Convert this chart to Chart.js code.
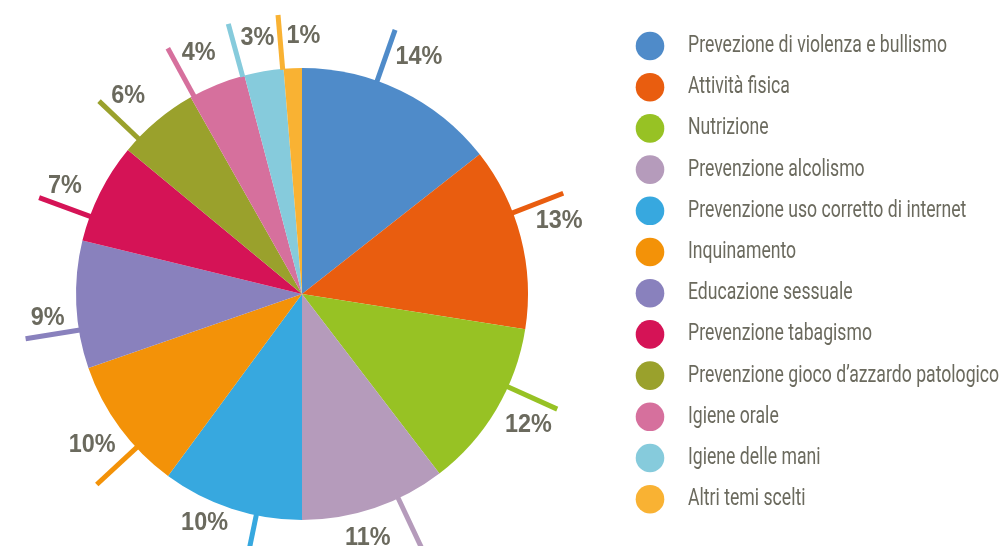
<!DOCTYPE html>
<html>
<head>
<meta charset="utf-8">
<script src="https://cdn.jsdelivr.net/npm/chart.js@4.4.1/dist/chart.umd.min.js"></script>
<style>
  html, body { margin: 0; padding: 0; background: #fff; }
  #wrap { width: 1001px; height: 546px; }
</style>
</head>
<body>
<div id="wrap"><canvas id="pie" width="1001" height="546"></canvas></div>
<script>
// Temi scelti (share of answers, %)
const categories = [
    'Prevezione di violenza e bullismo',
    'Attività fisica',
    'Nutrizione',
    'Prevenzione alcolismo',
    'Prevenzione uso corretto di internet',
    'Inquinamento',
    'Educazione sessuale',
    'Prevenzione tabagismo',
    'Prevenzione gioco d\u2019azzardo patologico',
    'Igiene orale',
    'Igiene delle mani',
    'Altri temi scelti'
];
const shares = [14.4, 13.1, 12.1, 10.4, 10.1, 9.6, 9.1, 7.2, 5.8, 4.1, 2.8, 1.3];
const shareLabels = ['14%', '13%', '12%', '11%', '10%', '10%', '9%', '7%', '6%', '4%', '3%', '1%'];
const sliceColors = [
    '#4f8bc9', '#e95d0f', '#97c224', '#b59bbb', '#37a8df', '#f39208',
    '#8981bd', '#d51356', '#9aa12c', '#d6709d', '#86cbdc', '#f9b233'
];

const TEXT_GREY = '#6b6a5e';
const LABEL_FONT = 'bold 26px "Liberation Sans", Arial, sans-serif';
const LABEL_SQUEEZE = 0.9;       // the original uses a condensed face
const LEGEND_FONT = '23px Roboto, "Liberation Sans", sans-serif';
const LEGEND_FIRST_WIDTH = 259;  // width of the first entry in the original

// outside percentage labels with a short coloured stick, plus the legend list on the right
const calloutPlugin = {
    id: 'callouts',
    afterDatasetsDraw: function (chart) {
        const ctx = chart.ctx;
        const arcs = chart.getDatasetMeta(0).data;
        const deg = Math.PI / 180;
        ctx.save();
        ctx.font = LABEL_FONT;
        arcs.forEach(function (arc, i) {
            const span = arc.endAngle - arc.startAngle;
            const mid = (arc.startAngle + arc.endAngle) / 2;
            const a = mid - Math.min(6.5 * deg, span * 0.55);
            const r = arc.outerRadius;
            const ux = Math.cos(a), uy = Math.sin(a);
            const px = -uy, py = ux;   // clockwise side of the stick

            ctx.strokeStyle = sliceColors[i];
            ctx.lineWidth = 5;
            ctx.lineCap = 'butt';
            ctx.beginPath();
            ctx.moveTo(arc.x + ux * (r - 1), arc.y + uy * (r - 1));
            ctx.lineTo(arc.x + ux * (r + 54), arc.y + uy * (r + 54));
            ctx.stroke();

            // text box sits just clockwise of its stick; lower labels get more room
            const w = ctx.measureText(shareLabels[i]).width * LABEL_SQUEEZE;
            const h = 19;
            const low = Math.max(0, uy);
            const side = (w / 2) * Math.abs(px) + (h / 2) * Math.abs(py) + 6 + 20 * Math.pow(low, 4);
            const along = r + 12 - 9 * uy + (w / 2) * Math.abs(ux) + (h / 2) * Math.abs(uy);
            const lx = arc.x + ux * along + px * side;
            const ly = arc.y + uy * along + py * side;

            ctx.save();
            ctx.translate(lx, ly);
            ctx.scale(LABEL_SQUEEZE, 1);
            ctx.fillStyle = TEXT_GREY;
            ctx.textAlign = 'center';
            ctx.textBaseline = 'middle';
            ctx.fillText(shareLabels[i], 0, 1);
            ctx.restore();
        });

        // legend
        ctx.font = LEGEND_FONT;
        const squeeze = LEGEND_FIRST_WIDTH / ctx.measureText(categories[0]).width;
        ctx.textAlign = 'left';
        ctx.textBaseline = 'alphabetic';
        categories.forEach(function (name, i) {
            const cy = 46 + i * 41.2;
            ctx.fillStyle = sliceColors[i];
            ctx.beginPath();
            ctx.arc(650, cy, 14.3, 0, Math.PI * 2);
            ctx.fill();
            ctx.save();
            ctx.translate(688, cy + 6);
            ctx.scale(squeeze, 1);
            ctx.fillStyle = TEXT_GREY;
            ctx.fillText(name, 0, 0);
            ctx.restore();
        });
        ctx.restore();
    }
};

new Chart(document.getElementById('pie'), {
    type: 'pie',
    data: {
        labels: categories,
        datasets: [{
            data: shares,
            backgroundColor: sliceColors,
            borderWidth: 0
        }]
    },
    options: {
        responsive: false,
        animation: false,
        devicePixelRatio: 1,
        layout: { padding: { left: 76, right: 473, top: 68, bottom: 26 } },
        plugins: {
            legend: { display: false },
            tooltip: { enabled: false }
        }
    },
    plugins: [calloutPlugin]
});
</script>
</body>
</html>
